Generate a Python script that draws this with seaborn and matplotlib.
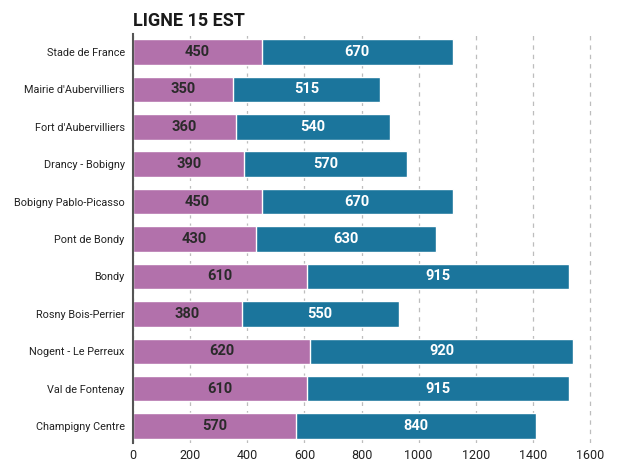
import matplotlib
matplotlib.use("Agg")
import matplotlib.pyplot as plt
import seaborn as sns
import pandas as pd

stations = [
    "Stade de France", "Mairie d'Aubervilliers", "Fort d'Aubervilliers",
    "Drancy - Bobigny", "Bobigny Pablo-Picasso", "Pont de Bondy", "Bondy",
    "Rosny Bois-Perrier", "Nogent - Le Perreux", "Val de Fontenay",
    "Champigny Centre",
]
purple_vals = [450, 350, 360, 390, 450, 430, 610, 380, 620, 610, 570]
blue_vals = [670, 515, 540, 570, 670, 630, 915, 550, 920, 915, 840]
x_ticks = [0, 200, 400, 600, 800, 1000, 1200, 1400, 1600]

PURPLE = "#b271ab"
BLUE = "#1b759c"

sns.set_style("white")
plt.rcParams["font.family"] = ["Roboto", "DejaVu Sans"]

df = pd.DataFrame({
    "station": stations,
    "purple": purple_vals,
    "blue": blue_vals,
})
df["total"] = df["purple"] + df["blue"]

fig = plt.figure(figsize=(6.19, 4.63), dpi=100)
ax = fig.add_axes([0.2149, 0.0432, 0.7706, 0.8834])

sns.barplot(data=df, y="station", x="total", color=BLUE, orient="h",
            width=0.68, saturation=1, ax=ax, zorder=3)
sns.barplot(data=df, y="station", x="purple", color=PURPLE, orient="h",
            width=0.68, saturation=1, ax=ax, zorder=3)

for i, (p, b) in enumerate(zip(purple_vals, blue_vals)):
    ax.text(p / 2, i, f"{p}", ha="center", va="center", color="#2a2a2a",
            fontsize=10.5, fontweight="bold", zorder=4)
    ax.text(p + b / 2, i, f"{b}", ha="center", va="center", color="white",
            fontsize=10.5, fontweight="bold", zorder=4)

ax.set_xlim(0, 1670)
ax.set_ylim(10.45, -0.48)
ax.set_xticks(x_ticks)
ax.set_xticklabels([str(t) for t in x_ticks], fontsize=9, color="#222222")
ax.tick_params(axis="x", length=0, pad=4)
ax.tick_params(axis="y", length=0, pad=6, labelsize=7.8, labelcolor="#222222")
ax.set_xlabel("")
ax.set_ylabel("")

ax.grid(axis="x", color="#bdbdbd", linestyle=(0, (3.5, 4)), linewidth=0.9, zorder=0)
ax.grid(axis="y", visible=False)
for side in ["top", "right", "bottom"]:
    ax.spines[side].set_visible(False)
ax.spines["left"].set_color("#555555")
ax.spines["left"].set_linewidth(1.5)
ax.spines["left"].set_zorder(5)

fig.text(0.2149, 0.955, "LIGNE 15 EST", ha="left", va="center",
         fontsize=13, fontweight="bold", color="#1a1a1a")

fig.savefig("out.png", dpi=100)
